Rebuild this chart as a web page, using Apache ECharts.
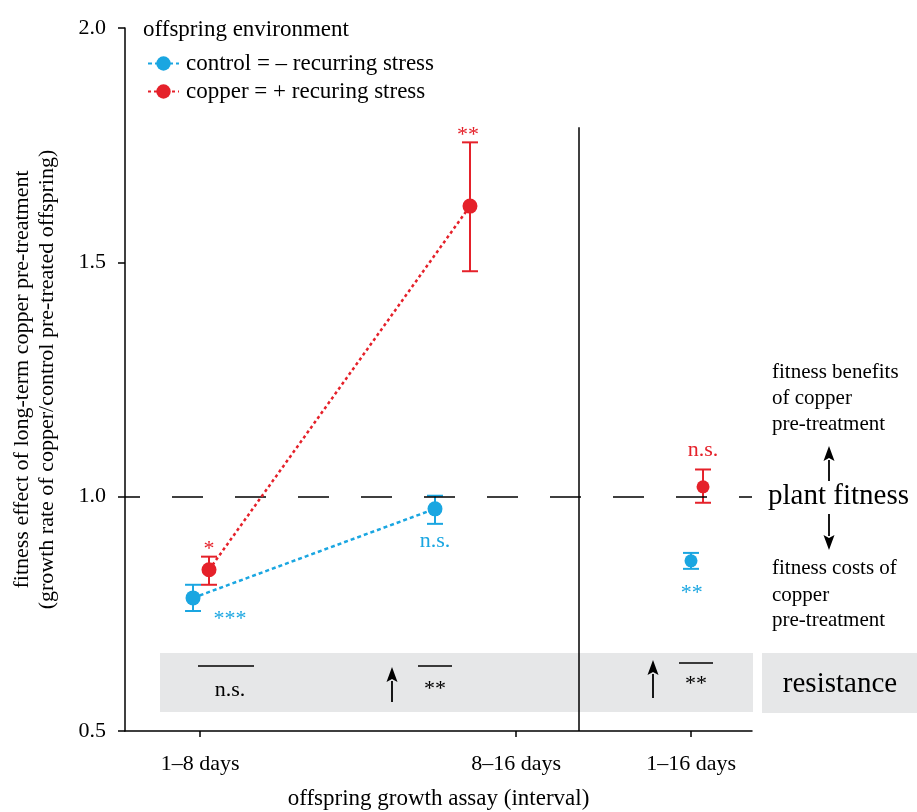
<!DOCTYPE html>
<html><head><meta charset="utf-8">
<script src="https://cdn.jsdelivr.net/npm/echarts@6/dist/echarts.min.js"></script>
<style>html,body{margin:0;padding:0;background:#fff}#c{width:917px;height:812px}</style>
</head><body><div id="c"></div>
<script>
const FONT = '"Liberation Serif","Times New Roman",serif';
const BLUE = '#1aa6e1';
const RED = '#e5212a';

// categories (x positions on a 0–10 value axis)
const catNames = ['1–8 days', '8–16 days', '1–16 days'];
const catPos = [1.2, 6.24, 9.03];
const dividerX = 7.24;
const yTicks = [0.5, 1.0, 1.5, 2.0];

// control = – recurring stress
const controlName = 'control = – recurring stress';
const controlX = [1.085, 4.944, 9.027];
const controlY = [0.784, 0.974, 0.863];
const controlLow = [0.756, 0.942, 0.846];
const controlHigh = [0.812, 1.002, 0.880];
const controlSig = ['***', 'n.s.', '**'];
const controlSigX = [1.675, 4.944, 9.04];
const controlSigY = [0.739, 0.906, 0.793];

// copper = + recuring stress
const copperName = 'copper = + recuring stress';
const copperX = [1.34, 5.502, 9.219];
const copperY = [0.844, 1.620, 1.021];
const copperLow = [0.812, 1.481, 0.987];
const copperHigh = [0.872, 1.756, 1.058];
const copperSig = ['*', '**', 'n.s.'];
const copperSigX = [1.34, 5.47, 9.22];
const copperSigY = [0.887, 1.771, 1.100];

const chart = echarts.init(document.getElementById('c'), null, {renderer: 'canvas'});

function errRender(color) {
  return function (params, api) {
    const x = api.value(0), lo = api.value(1), hi = api.value(2);
    const pLo = api.coord([x, lo]), pHi = api.coord([x, hi]);
    const hw = 8;
    const style = {stroke: color, lineWidth: 2};
    return {type: 'group', children: [
      {type: 'line', shape: {x1: pLo[0], y1: pLo[1], x2: pHi[0], y2: pHi[1]}, style},
      {type: 'line', shape: {x1: pLo[0] - hw, y1: pLo[1], x2: pLo[0] + hw, y2: pLo[1]}, style},
      {type: 'line', shape: {x1: pHi[0] - hw, y1: pHi[1], x2: pHi[0] + hw, y2: pHi[1]}, style}
    ]};
  };
}
const zip = (xs, ys) => xs.map((x, i) => [x, ys[i]]);
const zip3 = (xs, a, b) => xs.map((x, i) => [x, a[i], b[i]]);
const sigData = (xs, ys, t) => xs.map((x, i) => [x, ys[i], t[i]]);

function sigSeries(xs, ys, t, color) {
  return {
    type: 'scatter', silent: true, symbolSize: 0, z: 6,
    itemStyle: {opacity: 1},
    data: sigData(xs, ys, t),
    label: {show: true, position: 'inside', formatter: p => p.data[2], opacity: 1,
      color: color, fontFamily: FONT, fontSize: 22}
  };
}

const txt = (x, y, text, size, align, color) => ({
  type: 'text', x: x, y: y, silent: true,
  style: {text: text, fontFamily: FONT, fontSize: size, fill: color || '#000',
    align: align || 'left', verticalAlign: 'middle'}
});
const seg = (x1, y1, x2, y2, w) => ({type: 'line', silent: true,
  shape: {x1, y1, x2, y2}, style: {stroke: '#000', lineWidth: w || 1.5}});
const arrow = (x, yTop, yBot, up) => {
  const tipY = up ? yTop : yBot;
  const baseY = up ? yTop + 14 : yBot - 14;
  return [
    seg(x, up ? baseY : yTop, x, up ? yBot : baseY, 1.8),
    {type: 'polygon', silent: true, shape: {points: [[x, tipY], [x - 5.5, baseY + (up ? 1 : -1)], [x, baseY + (up ? -2 : 2)], [x + 5.5, baseY + (up ? 1 : -1)]]},
      style: {fill: '#000'}}
  ];
};

const option = {
  animation: false,
  backgroundColor: '#fff',
  title: {text: 'offspring environment', left: 138, top: 13,
    textStyle: {fontFamily: FONT, fontSize: 23, fontWeight: 'normal', color: '#000'}},
  legend: {
    orient: 'vertical', left: 142, top: 47, itemWidth: 31, itemHeight: 18, itemGap: 5,
    data: [{name: controlName}, {name: copperName}],
    textStyle: {fontFamily: FONT, fontSize: 23, color: '#000', padding: [0, 0, 0, 2]},
    selectedMode: false
  },
  grid: {left: 125, right: 165, top: 28, bottom: 81, outerBoundsMode: 'none', containLabel: false},
  xAxis: {
    type: 'value', min: 0, max: 10,
    axisLine: {lineStyle: {color: '#000', width: 1.5}},
    axisTick: {customValues: catPos, length: 6, lineStyle: {color: '#000', width: 1.5}},
    axisLabel: {customValues: catPos, margin: 22, fontFamily: FONT, fontSize: 22, color: '#000',
      formatter: v => {
        let best = 0;
        catPos.forEach((c, i) => { if (Math.abs(c - v) < Math.abs(catPos[best] - v)) best = i; });
        return catNames[best];
      }},
    splitLine: {show: false},
    name: 'offspring growth assay (interval)', nameLocation: 'middle', nameGap: 56,
    nameTextStyle: {fontFamily: FONT, fontSize: 23, color: '#000'}
  },
  yAxis: {
    type: 'value', min: 0.5, max: 2.0, interval: 0.5,
    axisLine: {show: true, lineStyle: {color: '#000', width: 1.5}},
    axisTick: {show: true, length: 7, lineStyle: {color: '#000', width: 1.5}},
    axisLabel: {margin: 19, fontFamily: FONT, fontSize: 22, color: '#000',
      formatter: v => v.toFixed(1)},
    splitLine: {show: false},
    name: 'fitness effect of long-term copper pre-treatment\n(growth rate of copper/control pre-treated offspring)',
    nameLocation: 'middle', nameGap: 65,
    nameTextStyle: {fontFamily: FONT, fontSize: 22, lineHeight: 25, color: '#000'}
  },
  graphic: [
    {type: 'rect', z: -1, silent: true, shape: {x: 160, y: 653, width: 593, height: 59}, style: {fill: '#e6e7e8'}},
    {type: 'rect', z: -1, silent: true, shape: {x: 762, y: 653, width: 155, height: 60}, style: {fill: '#e6e7e8'}},
    seg(198, 666, 254, 666), txt(230, 690, 'n.s.', 22, 'center'),
    ...arrow(392, 667, 702, true),
    seg(418, 666, 452, 666), txt(435, 689, '**', 22, 'center'),
    ...arrow(653, 660, 698, true),
    seg(679, 663, 713, 663), txt(696, 684, '**', 22, 'center'),
    txt(840, 684, 'resistance', 29, 'center'),
    txt(768, 496, 'plant fitness', 29, 'left'),
    ...arrow(829, 446, 481, true),
    ...arrow(829, 514, 550, false),
    txt(772, 372, 'fitness benefits', 21), txt(772, 398, 'of copper', 21), txt(772, 424, 'pre-treatment', 21),
    txt(772, 568, 'fitness costs of', 21), txt(772, 595, 'copper', 21), txt(772, 620, 'pre-treatment', 21)
  ],
  series: [
    {
      name: controlName, type: 'line', data: zip(controlX, controlY).slice(0, 2), z: 5,
      symbol: 'circle', symbolSize: 15, itemStyle: {color: BLUE, opacity: 1},
      lineStyle: {color: BLUE, width: 2.5, type: [4, 3]}
    },
    {name: controlName, type: 'scatter', data: zip(controlX, controlY).slice(2), z: 5,
      symbol: 'circle', symbolSize: 13, itemStyle: {color: BLUE, opacity: 1}},
    {
      name: copperName, type: 'line', data: zip(copperX, copperY).slice(0, 2), z: 5,
      symbol: 'circle', symbolSize: 15, itemStyle: {color: RED, opacity: 1},
      lineStyle: {color: RED, width: 2.5, type: [3, 3]}
    },
    {name: copperName, type: 'scatter', data: zip(copperX, copperY).slice(2), z: 5,
      symbol: 'circle', symbolSize: 13, itemStyle: {color: RED, opacity: 1}},
    {type: 'custom', renderItem: errRender(BLUE), data: zip3(controlX, controlLow, controlHigh),
      encode: {x: 0, y: [1, 2]}, z: 4, silent: true},
    {type: 'custom', renderItem: errRender(RED), data: zip3(copperX, copperLow, copperHigh),
      encode: {x: 0, y: [1, 2]}, z: 4, silent: true},
    sigSeries(controlSigX, controlSigY, controlSig, BLUE),
    sigSeries(copperSigX, copperSigY, copperSig, RED),
    {
      type: 'line', data: [], silent: true, z: 3,
      markLine: {
        silent: true, symbol: 'none', label: {show: false}, animation: false,
        data: [
          [{coord: [0, 1.0], lineStyle: {color: '#000', width: 1.5, type: [31, 32], dashOffset: 16}},
           {coord: [10, 1.0]}],
          [{coord: [dividerX, 0.5], lineStyle: {color: '#000', width: 1.5, type: 'solid'}},
           {coord: [dividerX, 1.788]}]
        ]
      }
    }
  ]
};
chart.setOption(option);
</script>
</body></html>
